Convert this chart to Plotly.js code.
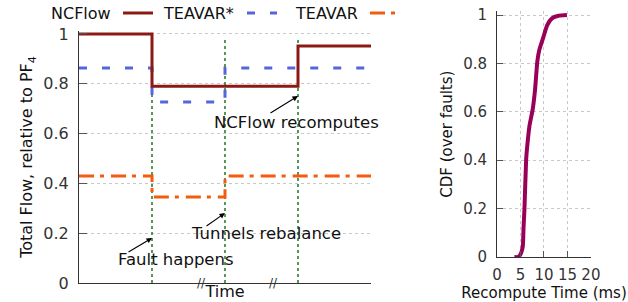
<!DOCTYPE html>
<html>
<head>
<meta charset="utf-8">
<script src="https://cdn.plot.ly/plotly-3.0.1.min.js"></script>
<style>html,body{margin:0;padding:0;background:#fff}#chart{width:628px;height:302px}</style>
</head>
<body>
<div id="chart"></div>
<script>
// ---- Data (left panel: total flow over time, step series) ----
const seriesNames = ['NCFlow', 'TEAVAR*', 'TEAVAR'];
const ncflowX = [0, 1, 3, 4];
const ncflowY = [1.0, 0.79, 0.952, 0.952];
const teavarStarX = [0, 1, 2, 4];
const teavarStarY = [0.863, 0.727, 0.863, 0.863];
const teavarX = [0, 1, 2, 4];
const teavarY = [0.43, 0.345, 0.43, 0.43];
const eventTimes = [1, 2, 3];
const eventLineTop = 0.985;
const leftTickVals = [0, 0.2, 0.4, 0.6, 0.8, 1];
const leftTickText = ['0', '0.2', '0.4', '0.6', '0.8', '1'];
const eventLabels = ['Fault happens', 'Tunnels rebalance', 'NCFlow recomputes'];
const eventArrowY = [0.181, 0.281, 0.751];

// ---- Data (right panel: CDF of recompute time) ----
const recomputeMs = [3.7, 4.5, 4.9, 5.2, 5.5, 5.65, 5.85, 6.2, 6.4, 6.9, 7.6, 8.1, 8.6, 9.0, 9.9, 10.7, 11.7, 13.1, 14.9];
const cdfVals =     [0.0, 0.0, 0.008, 0.02, 0.045, 0.12, 0.2, 0.4, 0.45, 0.54, 0.61, 0.69, 0.81, 0.855, 0.91, 0.958, 0.986, 0.997, 1.0];
const rightXTicks = [0, 5, 10, 15, 20];
const rightYTicks = [0, 0.2, 0.4, 0.6, 0.8, 1];
const rightYText = ['0', '0.2', '0.4', '0.6', '0.8', '1'];

const W = 628, H = 302;
const px = v => v / W;
const py = v => 1 - v / H;
const FONT = 'DejaVu Sans';
const colors = ['#8c1a14', '#5566d8', '#f25c0f'];
const dashes = ['solid', '8px,15px', '15px,6px,4px,7px'];
const TXT = '#333333';

const traces = [];
eventTimes.forEach(t => {
  traces.push({x: [t, t], y: [0, eventLineTop], mode: 'lines', xaxis: 'x', yaxis: 'y',
    line: {color: '#237523', width: 1.5, dash: 'dot'}, hoverinfo: 'skip', showlegend: false});
});
[[teavarX, teavarY], [teavarStarX, teavarStarY], [ncflowX, ncflowY]].forEach((s, k) => {
  const i = 2 - k;
  traces.push({x: s[0], y: s[1], name: seriesNames[i], mode: 'lines', xaxis: 'x', yaxis: 'y',
    line: {shape: 'hv', color: colors[i], width: 3, dash: dashes[i]}, showlegend: false});
});
traces.push({x: recomputeMs, y: cdfVals, mode: 'lines', xaxis: 'x2', yaxis: 'y2',
  line: {color: '#99005a', width: 4, shape: 'spline', smoothing: 0.6}, showlegend: false});

const annotations = [];
const shapes = [];
// custom legend: text then sample (as in original)
const legTextRight = [113, 236, 360];
const legSample = [[123, 153], [247, 277], [370, 395]];
seriesNames.forEach((n, i) => {
  annotations.push({xref: 'paper', yref: 'paper', x: px(legTextRight[i]), y: py(13), xanchor: 'right', yanchor: 'middle',
    text: n, showarrow: false, font: {family: FONT, size: 16, color: '#111'}});
  shapes.push({type: 'line', xref: 'paper', yref: 'paper', x0: px(legSample[i][0]), x1: px(legSample[i][1]), y0: py(13), y1: py(13),
    line: {color: colors[i], width: 3, dash: dashes[i]}});
});
// event annotations: arrows + text
const arrowOff = [[-25, 15], [-20, 14], [-29, 18]];
const labelPos = [[176, 259], [266, 233], [296, 122]];
eventLabels.forEach((lab, i) => {
  annotations.push({xref: 'x', yref: 'y', x: eventTimes[i], y: eventArrowY[i], text: '', showarrow: true,
    ax: arrowOff[i][0], ay: arrowOff[i][1], arrowhead: 2, arrowsize: 1, arrowwidth: 1.1, arrowcolor: '#000', standoff: 0, startstandoff: 0});
  annotations.push({xref: 'paper', yref: 'paper', x: px(labelPos[i][0]), y: py(labelPos[i][1]), xanchor: 'center', yanchor: 'middle',
    text: lab, showarrow: false, font: {family: FONT, size: 16.5, color: '#111'}});
});
// axis break marks on time axis
[1.68, 2.66].forEach(b => {
  annotations.push({xref: 'x', yref: 'paper', x: b, y: py(283), xanchor: 'center', yanchor: 'middle',
    text: '//', showarrow: false, font: {family: FONT, size: 12, color: '#333'}});
});

const layout = {
  width: W, height: H, margin: {l: 0, r: 0, t: 0, b: 0},
  paper_bgcolor: '#fff', plot_bgcolor: '#fff',
  font: {family: FONT, color: TXT},
  xaxis: {domain: [px(79), px(371)], range: [0, 4], showgrid: false, zeroline: false,
    showline: true, linecolor: '#333', linewidth: 1, showticklabels: false, ticks: '',
    title: {text: 'Time', font: {family: FONT, size: 16, color: '#111'}, standoff: 2}},
  yaxis: {domain: [py(283), py(31)], range: [0, 1.012], tickvals: leftTickVals, ticktext: leftTickText,
    ticks: 'inside', ticklen: 8, tickcolor: '#555', showline: true, linecolor: '#333', linewidth: 1,
    showgrid: true, gridcolor: '#c8c8c8', griddash: 'dot', gridwidth: 1, zeroline: false,
    tickfont: {family: FONT, size: 16, color: TXT}, ticklabelstandoff: 6,
    title: {text: 'Total Flow, relative to PF<sub>4</sub>', font: {family: FONT, size: 16, color: '#111'}, standoff: 6}},
  xaxis2: {domain: [px(497), px(591)], range: [0, 20.02], anchor: 'y2', tickvals: rightXTicks,
    ticks: 'inside', ticklen: 6, tickcolor: '#555', showline: true, linecolor: '#333', linewidth: 1,
    showgrid: true, gridcolor: '#c8c8c8', griddash: 'dot', zeroline: false,
    tickfont: {family: FONT, size: 15, color: TXT}, ticklabelstandoff: 4,
    title: {text: 'Recompute Time (ms)', font: {family: FONT, size: 15, color: '#111'}, standoff: 1}},
  yaxis2: {domain: [py(257), py(11.4)], range: [0, 1.015], anchor: 'x2', tickvals: rightYTicks, ticktext: rightYText,
    ticks: 'inside', ticklen: 6, tickcolor: '#555', showline: true, linecolor: '#333', linewidth: 1,
    showgrid: true, gridcolor: '#c8c8c8', griddash: 'dot', zeroline: false,
    tickfont: {family: FONT, size: 15, color: TXT}, ticklabelstandoff: 6,
    title: {text: 'CDF (over faults)', font: {family: FONT, size: 15, color: '#111'}, standoff: 6}},
  annotations: annotations, shapes: shapes, showlegend: false
};

Plotly.newPlot('chart', traces, layout, {displayModeBar: false, staticPlot: true});
</script>
</body>
</html>
